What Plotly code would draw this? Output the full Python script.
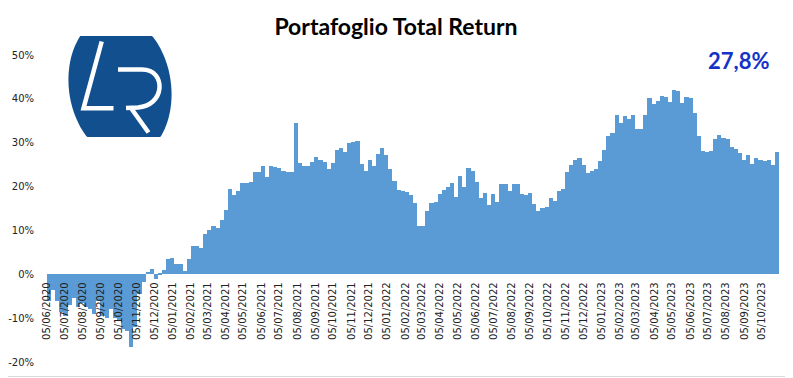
import numpy as np
import pandas as pd
import plotly.graph_objects as go

# Weekly total return of the portfolio (%)
ret_2020 = [-6.0, -3.5, -6.0, -8.5, -9.5, -7.0, -5.5, -7.5, -6.5, -7.5,
            -8.0, -9.0, -6.0, -9.5, -10.0, -8.0, -10.0, -10.5, -12.5, -13.0,
            -16.5, -12.0, -4.5, -1.8, 0.5, 1.3, -1.0, 0.4, 0.9, 3.4]
ret_2021 = [3.8, 2.3, 2.3, 0.8, 3.4, 6.5, 6.5, 6.1, 9.1, 10.2,
            11.1, 10.6, 12.3, 14.7, 19.5, 18.0, 19.1, 20.9, 20.9, 21.1,
            23.4, 23.4, 24.8, 22.1, 24.6, 24.5, 24.2, 23.5, 23.4, 23.4,
            34.4, 25.3, 24.6, 24.6, 25.5, 26.8, 26.1, 25.5, 23.9, 25.3,
            28.4, 28.7, 27.8, 30.0, 30.2, 30.5, 25.1, 23.6, 26.1, 24.8,
            27.4, 28.9, 27.2]
ret_2022 = [24.1, 21.2, 19.2, 19.1, 18.7, 18.0, 16.2,
            11.1, 10.9, 14.5, 16.2, 16.4, 18.2, 19.3, 19.8, 20.8, 17.6,
            22.3, 19.8, 24.2, 23.5, 21.1, 17.3, 18.5, 15.8, 18.2, 16.4,
            20.7, 20.5, 19.1, 20.7, 20.7, 18.3, 18.0, 18.6, 16.1, 14.5,
            15.2, 15.3, 17.4, 16.6, 18.9, 19.5, 23.4, 24.9, 26.1, 26.5,
            25.0, 23.0, 23.5, 24.0, 25.9]
ret_2023 = [28.4, 31.6, 32.2, 36.4, 34.5,
            36.1, 35.5, 36.4, 33.2, 33.2, 36.4, 40.2, 38.8, 39.5, 40.6,
            40.5, 39.3, 42.0, 41.7, 39.1, 40.5, 40.3, 36.8, 31.6, 28.0,
            27.8, 28.0, 30.8, 31.8, 31.1, 30.8, 29.1, 28.6, 27.7, 26.1,
            27.3, 25.2, 26.5, 26.1, 25.9, 26.1, 24.9, 27.8]

start_date = "2020-06-05"
last_label = "27,8%"
y_ticks = [-20, -10, 0, 10, 20, 30, 40, 50]
y_ticktext = ["-20%", "-10%", "0%", "10%", "20%", "30%", "40%", "50%"]
n_month_ticks = 41

values = ret_2020 + ret_2021 + ret_2022 + ret_2023
dates = pd.date_range(start_date, periods=len(values), freq="7D")
tick_dates = [pd.Timestamp(start_date) + pd.DateOffset(months=k) for k in range(n_month_ticks)]
tick_text = [d.strftime("%d/%m/%Y") for d in tick_dates]

WEEK_MS = 7 * 86400000

# Geometry in page pixels (the HTML body adds an 8 px margin)
OFF = 8
FW, FH = 793 - OFF, 378 - OFF
L, R, T, B = 47, 779, 55, 362          # plot area in page pixels
PW, PH = R - L, B - T


def px(x):
    return (x - L) / PW


def py(y):
    return (B - y) / PH


fig = go.Figure()
fig.add_trace(go.Bar(
    x=dates, y=values, width=WEEK_MS, offset=0,
    marker=dict(color="#5b9bd5", line=dict(width=0)),
    hovertemplate="%{x|%d/%m/%Y}: %{y:.1f}%<extra></extra>",
))

ymin, ymax = y_ticks[0], y_ticks[-1]

fig.update_layout(
    width=FW, height=FH,
    margin=dict(l=L - OFF, r=793 - R, t=T - OFF, b=378 - B, autoexpand=False),
    paper_bgcolor="white", plot_bgcolor="white",
    showlegend=False, bargap=0,
    title=dict(text="Portafoglio Total Return", x=px(396), xref="paper",
               xanchor="center", y=1 - (27 - OFF) / FH, yanchor="middle",
               font=dict(family="Lato", size=23, color="black", weight="bold")),
    xaxis=dict(type="date", automargin=False,
               range=[dates[0], dates[-1] + pd.Timedelta(days=7)],
               tickvals=tick_dates, ticktext=tick_text, tickangle=-90,
               anchor="free", position=(0 - ymin) / (ymax - ymin),
               showline=False, showgrid=False, zeroline=False, ticks="",
               ticklabelstandoff=5,
               tickfont=dict(family="DejaVu Sans", size=10, color="#222222")),
    yaxis=dict(range=[ymin, ymax], tickvals=y_ticks, ticktext=y_ticktext,
               automargin=False,
               showline=False, showgrid=False, zeroline=False, ticks="",
               ticklabelstandoff=12,
               tickfont=dict(family="DejaVu Sans", size=10, color="#222222")),
)

fig.add_annotation(text=last_label, xref="paper", yref="paper",
                   x=px(738), y=py(60), xanchor="center", yanchor="middle",
                   showarrow=False,
                   font=dict(family="Lato", size=22, color="#1432c8", weight="bold"))

# --- logo (decoration) ---
cx, cy, a, b, th = 120.0, 87.0, 51.0, 72.0, np.deg2rad(-8.5)
t = np.linspace(0, 2 * np.pi, 200)
u, v = a * np.cos(t), b * np.sin(t)
ex = cx + u * np.cos(th) - v * np.sin(th)
ey = cy + u * np.sin(th) + v * np.cos(th)
ey = np.clip(ey, 36, 137)
ell = "M " + " L ".join(f"{px(x_):.5f},{py(y_):.5f}" for x_, y_ in zip(ex, ey)) + " Z"
fig.add_shape(type="path", path=ell, xref="paper", yref="paper",
              fillcolor="#114f8e", line=dict(width=0), layer="above")


def P(pts):
    return " ".join(f"{c} {px(x_):.5f},{py(y_):.5f}" for c, (x_, y_) in pts)


l_path = P([("M", (101.7, 41.5)), ("L", (83.5, 108.3)), ("L", (113.5, 108.3))])
r_path = ("M {:.5f},{:.5f} L {:.5f},{:.5f} C {:.5f},{:.5f} {:.5f},{:.5f} {:.5f},{:.5f} "
          "C {:.5f},{:.5f} {:.5f},{:.5f} {:.5f},{:.5f} L {:.5f},{:.5f}").format(
    px(118), py(69.5), px(142), py(69.5),
    px(155), py(69.5), px(160), py(79), px(159.5), py(88),
    px(158.5), py(99), px(150), py(106.5), px(138), py(107.5),
    px(126), py(108))
leg_path = P([("M", (131, 108)), ("L", (148.5, 132.5))])
for pth in (l_path, r_path, leg_path):
    fig.add_shape(type="path", path=pth, xref="paper", yref="paper",
                  line=dict(color="white", width=4.5), layer="above")

# chart-area border (right and bottom)
fig.add_shape(type="line", xref="paper", yref="paper",
              x0=px(789.5), x1=px(789.5), y0=py(OFF), y1=py(376.5),
              line=dict(color="#d9d9d9", width=1))
fig.add_shape(type="line", xref="paper", yref="paper",
              x0=px(OFF), x1=px(789.5), y0=py(376.5), y1=py(376.5),
              line=dict(color="#d9d9d9", width=1))

fig.write_html("out.html")
